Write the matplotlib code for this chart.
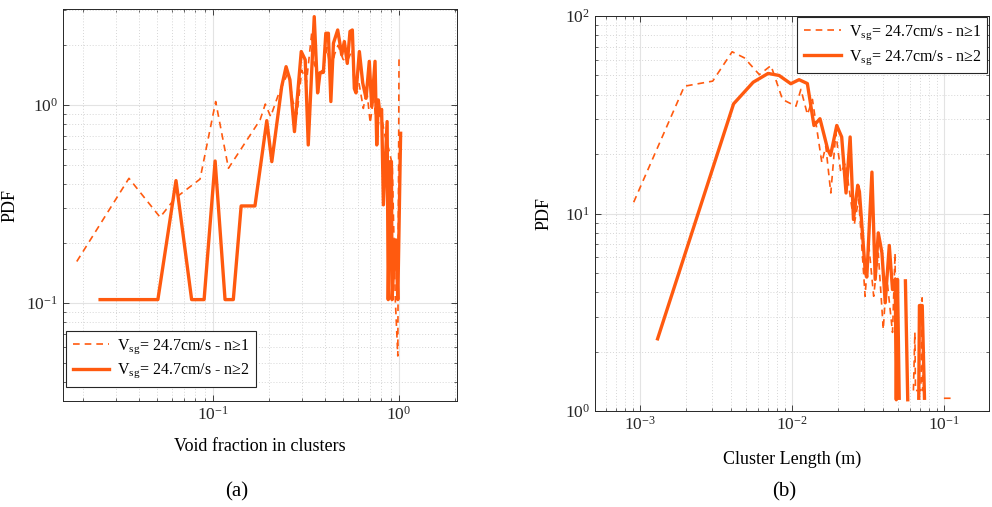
import numpy as np
import matplotlib
matplotlib.use("Agg")
import matplotlib.pyplot as plt
from matplotlib.ticker import LogLocator, NullFormatter

plt.rcParams['font.family'] = ['Liberation Serif', 'DejaVu Serif']
plt.rcParams['mathtext.fontset'] = 'custom'
plt.rcParams['mathtext.rm'] = 'Liberation Serif'
plt.rcParams['mathtext.it'] = 'Liberation Serif:italic'
plt.rcParams['mathtext.bf'] = 'Liberation Serif:bold'

# (a) void fraction in clusters, n>=1 (dashed) and n>=2 (solid)
void_n1 = [0.0185, 0.0353, 0.0519, 0.0625, 0.0851, 0.1033, 0.121, 0.179, 0.191, 0.204,
           0.224, 0.254, 0.268, 0.283, 0.30, 0.318, 0.339, 0.35, 0.37, 0.39,
           0.41, 0.43, 0.45, 0.47, 0.50, 0.527, 0.56, 0.575, 0.60, 0.643,
           0.67, 0.70, 0.73, 0.76, 0.80, 0.84, 0.88, 0.92, 0.955, 0.985, 1.0]
pdf_void_n1 = [0.162, 0.426, 0.271, 0.338, 0.422, 1.04, 0.479, 0.84, 1.01, 0.873,
               1.12, 1.47, 1.05, 0.9, 1.5, 1.3, 2.30, 1.6, 1.45, 1.5,
               1.95, 1.45, 1.8, 2.0, 1.7, 1.66, 1.9, 1.21, 1.4, 0.96,
               1.2, 0.81, 1.1, 0.75, 0.9, 0.7, 0.6, 0.5, 0.104, 0.054, 1.75]

void_n2 = [0.0247, 0.0505, 0.0632, 0.0767, 0.0895, 0.1026, 0.116, 0.1285, 0.1416, 0.168,
           0.1945, 0.207, 0.234, 0.247, 0.259, 0.274, 0.298, 0.313, 0.325, 0.350,
           0.365, 0.376, 0.392, 0.404, 0.417, 0.430, 0.444, 0.468, 0.492, 0.508,
           0.527, 0.545, 0.561, 0.575, 0.587, 0.612, 0.638, 0.665, 0.692, 0.713,
           0.743, 0.759, 0.774, 0.79, 0.806, 0.824, 0.863, 0.875, 0.895, 0.91,
           0.918, 0.951, 0.962, 0.985, 1.02]
pdf_void_n2 = [0.104, 0.104, 0.415, 0.104, 0.104, 0.521, 0.104, 0.104, 0.309, 0.309,
               0.833, 0.517, 1.24, 1.56, 1.34, 0.733, 1.86, 1.69, 0.628, 2.79,
               1.15, 1.45, 1.46, 2.30, 2.30, 1.04, 2.05, 2.39, 1.79, 2.09,
               1.62, 2.35, 2.39, 1.21, 1.15, 1.86, 1.29, 1.08, 1.66, 0.98,
               1.66, 0.628, 1.06, 0.89, 0.95, 0.313, 0.824, 0.104, 0.517, 0.517,
               0.104, 0.208, 0.208, 0.104, 0.719]

# (b) cluster length (m); nan = empty bin (gap on log scale)
len_n1 = [0.000909, 0.00196, 0.00301, 0.00404, 0.00486, 0.0061, 0.00728, 0.00867, 0.01062, 0.01145,
          0.01265, 0.01364, 0.01573, 0.0167, 0.01802, 0.01945, 0.02096, 0.0225, 0.0257, 0.0275,
          0.0303, 0.032, 0.0345, 0.0370, 0.0399, 0.0420, 0.0459, 0.0477, 0.0486, 0.055,
          0.0630, 0.0644, 0.0650, 0.0705, 0.0719, 0.0725, 0.0750, 0.085, 0.100, 0.112, 0.114]
pdf_len_n1 = [11.4, 44.1, 46.8, 65.9, 61.4, 50.5, 56.1, 37.8, 34.9, 42.5,
              31.7, 37.8, 18.1, 21.9, 12.7, 25.6, 16.1, 18.0, 8.8, 11.8,
              3.81, 7.0, 3.81, 6.3, 2.59, 4.82, 2.5, 6.3, 1.29, np.nan,
              1.27, 2.5, 1.27, 1.27, 3.74, 1.27, 1.27, np.nan, 1.16, 1.16, 1.2]

len_n2 = [0.001306, 0.00413, 0.00556, 0.00697, 0.00823, 0.00983, 0.01114, 0.01263, 0.01396, 0.01529,
          0.0172, 0.01796, 0.01972, 0.02125, 0.0227, 0.02415, 0.0254, 0.0271, 0.0278, 0.0304,
          0.0311, 0.0336, 0.0353, 0.0370, 0.0391, 0.0411, 0.0437, 0.0459, 0.0478, 0.0486,
          0.0495, 0.0508, 0.053, 0.0558, 0.0578, 0.063, 0.0683, 0.0690, 0.0720, 0.0745]
pdf_len_n2 = [2.32, 35.9, 46.2, 51.2, 50.0, 45.4, 47.6, 45.5, 27.9, 30.2,
              21.1, 19.7, 27.9, 24.4, 12.7, 24.4, 9.33, 13.9, 12.9, 5.01,
              4.77, 16.2, 4.64, 7.98, 6.32, 3.53, 6.89, 4.12, 4.64, 1.14,
              4.64, 1.16, np.nan, 4.56, 1.14, np.nan, 1.16, 3.42, 3.42, 1.16]

labels = ['V$_{\\rm sg}$= 24.7cm/s - n\u22651', 'V$_{\\rm sg}$= 24.7cm/s - n\u22652']
color = '#ff5a0f'

fig = plt.figure(figsize=(9.92, 5.07), dpi=100)
ax1 = fig.add_axes([63/992, 1-401/507, 394/992, 392/507])
ax2 = fig.add_axes([595/992, 1-411/507, 394/992, 395/507])


def style_axes(ax):
    ax.set_xscale('log')
    ax.set_yscale('log')
    ax.xaxis.set_minor_locator(LogLocator(base=10, subs=np.arange(2, 10), numticks=20))
    ax.yaxis.set_minor_locator(LogLocator(base=10, subs=np.arange(2, 10), numticks=20))
    ax.xaxis.set_minor_formatter(NullFormatter())
    ax.yaxis.set_minor_formatter(NullFormatter())
    ax.grid(True, which='major', color='#e3e3e3', lw=0.8, ls='-')
    ax.grid(True, which='minor', color='#d6d6d6', lw=0.7, ls=(0, (1, 2)))
    ax.set_axisbelow(True)
    ax.tick_params(which='both', direction='in', top=True, right=True,
                   labelsize=12.5, colors='#262626')
    ax.tick_params(which='major', length=4, width=0.6)
    ax.tick_params(which='minor', length=2, width=0.5)
    for s in ax.spines.values():
        s.set_color('#262626')
        s.set_linewidth(0.7)


def add_legend(ax, **kw):
    leg = ax.legend(borderaxespad=0, fontsize=11.5, handlelength=2.3, handletextpad=0.5,
                    fancybox=False, framealpha=1, edgecolor='#262626',
                    borderpad=0.4, labelspacing=0.4, **kw)
    leg.get_frame().set_linewidth(0.8)
    return leg


style_axes(ax1)
ax1.plot(void_n1, pdf_void_n1, color=color, lw=1.2, ls=(0, (4, 3)), label=labels[0])
ax1.plot(void_n2, pdf_void_n2, color=color, lw=2.4, label=labels[1])
ax1.set_xlim(0.0156, 2.05)
ax1.set_ylim(0.032, 3.05)
ax1.set_xlabel('Void fraction in clusters', fontsize=13)
ax1.set_ylabel('PDF', fontsize=13)
ax1.xaxis.set_label_coords(0.5, -0.094)
ax1.yaxis.set_label_coords(-0.114, 0.5)
add_legend(ax1, loc='lower left', bbox_to_anchor=(0.008, 0.036))

style_axes(ax2)
ax2.plot(len_n1, pdf_len_n1, color=color, lw=1.2, ls=(0, (4, 3)), label=labels[0])
ax2.plot(len_n2, pdf_len_n2, color=color, lw=2.4, label=labels[1])
ax2.set_xlim(5.06e-4, 0.198)
ax2.set_ylim(1, 100)
ax2.set_xlabel('Cluster Length (m)', fontsize=13)
ax2.set_ylabel('PDF', fontsize=13)
ax2.xaxis.set_label_coords(0.5, -0.101)
ax2.yaxis.set_label_coords(-0.107, 0.5)
add_legend(ax2, loc='upper right', bbox_to_anchor=(0.996, 0.998))

fig.text(237/992, 1-492/507, '(a)', fontsize=15, ha='center', va='center')
fig.text(784/992, 1-492/507, '(b)', fontsize=15, ha='center', va='center')

fig.savefig('out.png', dpi=100)
